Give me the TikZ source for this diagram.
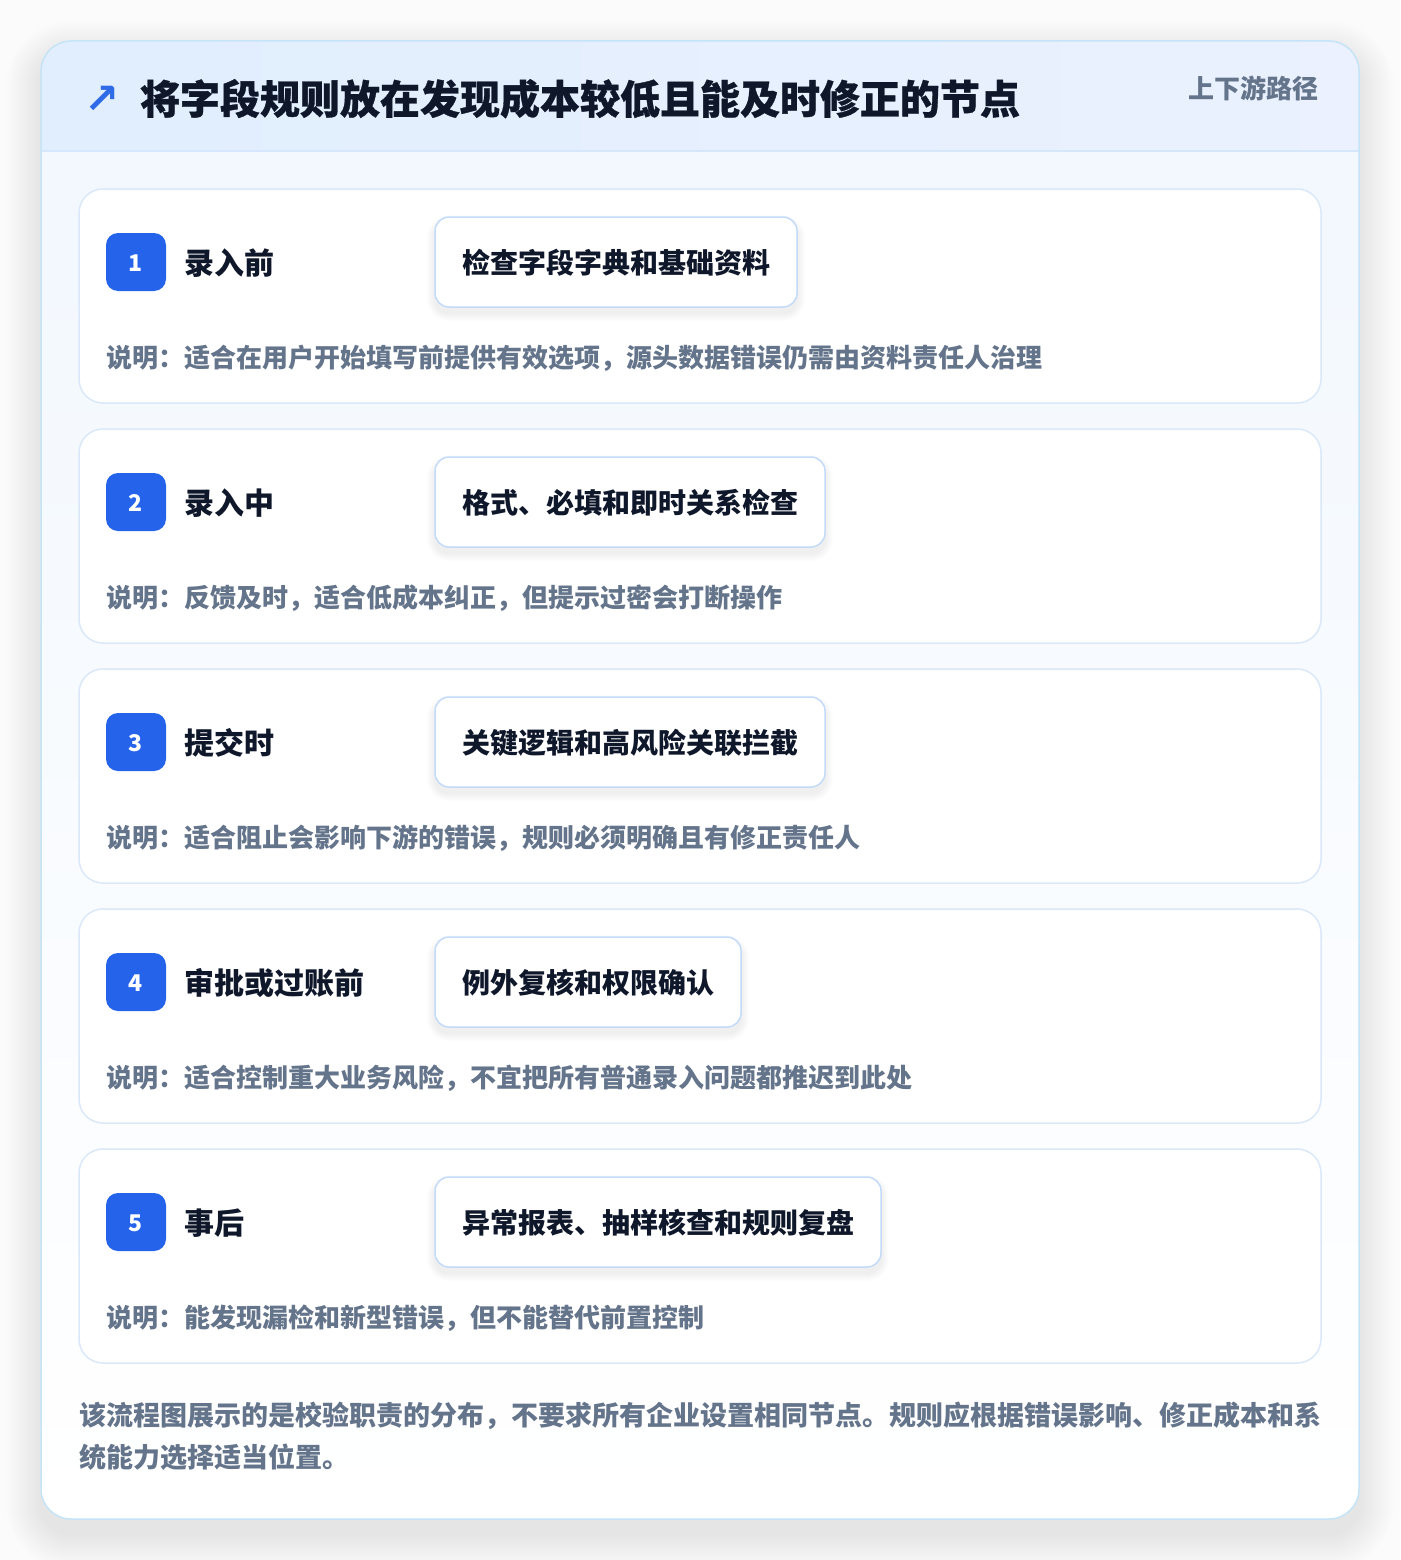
\documentclass[tikz,border=0pt]{standalone}
\usepackage{fontspec}
\setmainfont{Noto Sans CJK SC}
\newfontfamily\titlefam[BoldFeatures={FakeBold=0.8}]{Noto Sans CJK SC}
\newfontfamily\symfont{DejaVu Sans}
\definecolor{bgc}{HTML}{FBFBFC}
\definecolor{panelb}{HTML}{C5E4F7}
\definecolor{hdrl}{HTML}{E0EEFD}
\definecolor{hdrr}{HTML}{EBF1FE}
\definecolor{hdrline}{HTML}{D6E7FB}
\definecolor{bodytop}{HTML}{F1F7FE}
\definecolor{cardb}{HTML}{DAE8FA}
\definecolor{boxb}{HTML}{C3DBF8}
\definecolor{badge}{HTML}{2563EB}
\definecolor{darkc}{HTML}{0F172A}
\definecolor{grayc}{HTML}{64748B}
\definecolor{arrowc}{HTML}{2F6BE6}
\tikzset{
  txt/.style={anchor=base west, inner sep=0pt, outer sep=0pt},
  titlefont/.style={font=\titlefam\bfseries\fontsize{40}{42}\selectfont, text=darkc},
  labelfont/.style={font=\bfseries\fontsize{30}{32}\selectfont, text=darkc},
  boxfont/.style={font=\bfseries\fontsize{28}{30}\selectfont, text=darkc},
  descfont/.style={font=\bfseries\fontsize{26}{28}\selectfont, text=grayc},
  footfont/.style={font=\bfseries\fontsize{27}{29}\selectfont, text=grayc},
  cardbox/.style={draw=cardb, line width=1.5pt, fill=white, rounded corners=24pt},
  stepbox/.style={draw=boxb, line width=1.5pt, fill=white, rounded corners=14pt},
  badgebox/.style={fill=badge, rounded corners=12pt},
}
\newcommand\mkcard[6]{%
  % #1 idx, #2 top, #3 label, #4 box text, #5 box right, #6 desc
  \draw[cardbox] (79,#2) rectangle (1321,#2+214);
  \foreach \k in {1,...,8}{%
    \pgfmathsetmacro\rr{14+\k}%
    \fill[black, opacity=0.006, rounded corners=\rr pt] (435-\k,#2+34-\k) rectangle (#5+\k,#2+124+\k);
  }
  \draw[stepbox] (435,#2+28) rectangle (#5,#2+118);
  \fill[badgebox] (106,#2+44) rectangle (166,#2+102);
  \node[txt, anchor=center, font=\bfseries\fontsize{23}{24}\selectfont, text=white] (n#1) at (136,#2+74) {#1};
  \node[txt, labelfont] (l#1) at (184,#2+85) {#3};
  \node[txt, boxfont] (b#1) at (462,#2+84) {#4};
  \node[txt, descfont] (d#1) at (106,#2+178) {#6};
}
\begin{document}
\begin{tikzpicture}[x=1pt,y=-1pt]
\useasboundingbox (0,0) rectangle (1400,1560);
\fill[bgc] (0,0) rectangle (1400,1560);
% outer shadow
\foreach \k in {1,...,22}{%
  \pgfmathsetmacro\rr{30+\k*1.6}%
  \fill[black, opacity=0.0045, rounded corners=\rr pt] (41-\k*1.6,56-\k*1.6) rectangle (1359+\k*1.6,1534+\k*1.6);
}
% panel
\begin{scope}
  \clip[rounded corners=30pt] (41,41) rectangle (1359,1519);
  \fill[top color=bodytop, bottom color=white] (41,41) rectangle (1359,1519);
  \fill[left color=hdrl, right color=hdrr] (41,41) rectangle (1359,151);
  \draw[hdrline, line width=1.2pt] (41,151) -- (1359,151);
\end{scope}
\draw[panelb, line width=1.5pt, rounded corners=30pt] (41,41) rectangle (1359,1519);
% header
\node[txt, anchor=center, font=\symfont\bfseries\fontsize{42}{42}\selectfont, text=arrowc] (arrow) at (102,100) {↗};
\node[txt, titlefont] (title) at (140,114) {将字段规则放在发现成本较低且能及时修正的节点};
\node[txt, font=\bfseries\fontsize{26}{28}\selectfont, text=grayc] (path) at (1188,99) {上下游路径};
% cards
\mkcard{1}{189}{录入前}{检查字段字典和基础资料}{797}{说明：适合在用户开始填写前提供有效选项，源头数据错误仍需由资料责任人治理}
\mkcard{2}{429}{录入中}{格式、必填和即时关系检查}{825}{说明：反馈及时，适合低成本纠正，但提示过密会打断操作}
\mkcard{3}{669}{提交时}{关键逻辑和高风险关联拦截}{825}{说明：适合阻止会影响下游的错误，规则必须明确且有修正责任人}
\mkcard{4}{909}{审批或过账前}{例外复核和权限确认}{741}{说明：适合控制重大业务风险，不宜把所有普通录入问题都推迟到此处}
\mkcard{5}{1149}{事后}{异常报表、抽样核查和规则复盘}{881}{说明：能发现漏检和新型错误，但不能替代前置控制}
% footer
\node[txt, footfont] (f1) at (79,1425) {该流程图展示的是校验职责的分布，不要求所有企业设置相同节点。规则应根据错误影响、修正成本和系};
\node[txt, footfont] (f2) at (79,1467) {统能力选择适当位置。};
\end{tikzpicture}
\end{document}
